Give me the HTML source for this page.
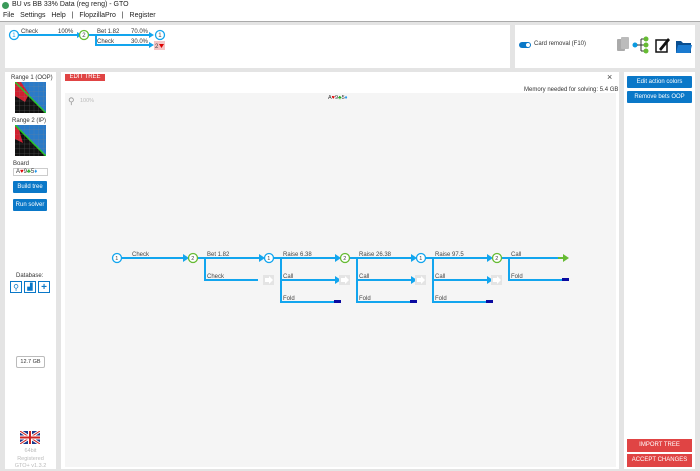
<!DOCTYPE html>
<html><head><meta charset="utf-8"><style>
*{margin:0;padding:0;box-sizing:border-box}
body{width:700px;height:469px;overflow:hidden;background:#e4e4e4;font-family:"Liberation Sans",sans-serif;position:relative}
.a{position:absolute}
.btn{position:absolute;background:#0a78c8;color:#fff;font-size:6px;text-align:center;border-radius:1px}
.rbtn{position:absolute;background:#e04444;color:#fff;font-size:6px;text-align:center}
</style></head><body>
<div class="a" style="left:0;top:0;width:700px;height:22px;background:#fff"></div>
<div class="a" style="left:2px;top:2px;width:7px;height:7px;border-radius:50%;background:#3a9a5a"></div>
<div class="a" style="left:12px;top:1px;font-size:7px;color:#222">BU vs BB 33% Data (reg reng) - GTO</div>
<div class="a" style="left:3px;top:12px;font-size:7px;color:#222;word-spacing:1px">File&nbsp; Settings&nbsp; Help&nbsp; |&nbsp; FlopzillaPro&nbsp; |&nbsp; Register</div>
<div class="a" style="left:0;top:21px;width:700px;height:1px;background:#aaa"></div>
<div class="a" style="left:5px;top:25px;width:505px;height:43px;background:#fff"></div>
<div class="a" style="left:515px;top:25px;width:180px;height:43px;background:#fff"></div>
<div class="a" style="left:5px;top:72px;width:51px;height:397px;background:#fff"></div>
<div class="a" style="left:61px;top:72px;width:558px;height:397px;background:#fff"></div>
<div class="a" style="left:65px;top:93px;width:551px;height:374px;background:#f5f5f5"></div>
<div class="a" style="left:624px;top:72px;width:71px;height:397px;background:#fff"></div>

<!-- top right -->
<div class="a" style="left:519px;top:42px;width:12px;height:6px;border-radius:3px;background:#0a78c8"></div>
<div class="a" style="left:526px;top:43px;width:4px;height:4px;border-radius:50%;background:#fff"></div>
<div class="a" style="left:534px;top:41px;font-size:6px;color:#333">Card removal (F10)</div>
<div class="a" style="left:617px;top:39px;width:8px;height:12px;background:#aaa;border-radius:1px"></div>
<div class="a" style="left:621px;top:37px;width:8px;height:12px;background:#bbb;border-radius:1px"></div>
<svg class="a" style="left:630px;top:34px" width="70" height="22">
<circle cx="5" cy="11" r="2.5" fill="#0a9ae0"/><line x1="7" y1="11" x2="11" y2="11" stroke="#333"/><path d="M11 5V17M11 5H15M11 11H15M11 17H15" stroke="#333" fill="none"/>
<circle cx="16" cy="5" r="2.5" fill="#66bb33"/><circle cx="16" cy="11" r="2.5" fill="#66bb33"/><circle cx="16" cy="17" r="2.5" fill="#66bb33"/>
<rect x="26" y="6" width="11" height="12" fill="none" stroke="#111" stroke-width="1.5"/><path d="M29 15L38 4L40 6L31 17Z" fill="#111"/>
<path d="M46 7H51L53 9H61V19H46Z" fill="#0a4e90"/><path d="M48 11H62L60 19H46Z" fill="#1a7ad0"/>
</svg>

<!-- top tree -->
<svg class="a" style="left:0;top:25px" width="200" height="40" font-family="Liberation Sans" font-size="6" fill="#333">
<g stroke="#12a5ee" stroke-width="2" fill="none">
<line x1="19" y1="10" x2="78" y2="10"/><line x1="89" y1="10" x2="150" y2="10"/>
<path d="M96 10V20H150"/></g>
<g fill="#12a5ee"><path d="M77 7L82 10L77 13Z"/><path d="M149 7L154 10L149 13Z"/><path d="M149 17L154 20L149 23Z"/></g>
<circle cx="14" cy="10" r="4.5" fill="#fff" stroke="#12a5ee" stroke-width="1.3"/><text x="12.3" y="12.2" font-size="6" fill="#12a5ee">1</text>
<circle cx="84" cy="10" r="4.5" fill="#fff" stroke="#66bb33" stroke-width="1.3"/><text x="82.3" y="12.2" fill="#444">2</text>
<circle cx="160" cy="10" r="4.5" fill="#fff" stroke="#12a5ee" stroke-width="1.3"/><text x="158.3" y="12.2" fill="#444">1</text>
<rect x="154" y="16" width="11" height="9" fill="#f4c4c4"/><text x="155" y="23" fill="#444">2</text><path d="M159 19H164L161.5 23Z" fill="#d00"/>
<text x="21" y="8">Check</text><text x="58" y="8">100%</text>
<text x="97" y="8">Bet 1.82</text><text x="131" y="8">70.0%</text>
<text x="97" y="18">Check</text><text x="131" y="18">30.0%</text>
</svg>

<!-- left panel -->
<div class="a" style="left:11px;top:75px;font-size:6px;color:#333">Range 1 (OOP)</div>
<svg class="a" style="left:15px;top:82px" width="31" height="31">
<rect width="31" height="31" fill="#111"/><path d="M0 0H31V31Z" fill="#2a7ac8"/><path d="M0 0H12L31 22V31Z" fill="#2a7ac8"/><path d="M0 0V14L10 20L14 12L6 0Z" fill="#d02030"/><path d="M0 0L31 31" stroke="#2c2" stroke-width="1.5"/>
<g stroke="#888" stroke-width="0.3" opacity=".6"><path d="M0 4.7H31M0 9.5H31M0 14.3H31M0 19H31M0 23.8H31M0 28.6H31M4.7 0V31M9.5 0V31M14.3 0V31M19 0V31M23.8 0V31M28.6 0V31"/></g></svg>
<div class="a" style="left:12px;top:118px;font-size:6px;color:#333">Range 2 (IP)</div>
<svg class="a" style="left:15px;top:125px" width="31" height="31">
<rect width="31" height="31" fill="#111"/><path d="M0 0H31V31Z" fill="#2a7ac8"/><path d="M0 0V14L8 18L4 5Z" fill="#d02030"/><path d="M0 0L31 31" stroke="#2c2" stroke-width="1.5"/>
<g stroke="#888" stroke-width="0.3" opacity=".6"><path d="M0 4.7H31M0 9.5H31M0 14.3H31M0 19H31M0 23.8H31M0 28.6H31M4.7 0V31M9.5 0V31M14.3 0V31M19 0V31M23.8 0V31M28.6 0V31"/></g></svg>
<div class="a" style="left:13px;top:161px;font-size:6px;color:#333">Board</div>
<div class="a" style="left:13px;top:168px;width:35px;height:8px;border:1px solid #ccc;font-size:6px;line-height:6px;padding-left:2px;color:#333">A<span style="color:#d00">♥</span>9<span style="color:#2a2">♣</span>5<span style="color:#29e">♦</span></div>
<div class="btn" style="left:13px;top:181px;width:34px;height:12px;line-height:12px">Build tree</div>
<div class="btn" style="left:13px;top:199px;width:34px;height:12px;line-height:12px">Run solver</div>
<div class="a" style="left:16px;top:273px;font-size:6px;color:#333">Database:</div>
<div class="a" style="left:10px;top:281px;width:12px;height:12px;border:1px solid #0a78c8;color:#0a78c8;font-size:8px;text-align:center;line-height:11px">⚲</div>
<div class="a" style="left:24px;top:281px;width:12px;height:12px;border:1px solid #0a78c8;color:#0a78c8;font-size:7px;text-align:center;line-height:11px">▟</div>
<div class="a" style="left:38px;top:281px;width:12px;height:12px;border:1px solid #0a78c8;color:#0a78c8;font-size:10px;font-weight:bold;text-align:center;line-height:11px">+</div>
<div class="a" style="left:16px;top:356px;width:29px;height:12px;border:1px solid #bbb;border-radius:2px;font-size:5.5px;text-align:center;line-height:10px;color:#333">12.7 GB</div>
<svg class="a" style="left:20px;top:431px" width="20" height="13"><rect width="20" height="13" fill="#1a3a8c"/><path d="M0 0L20 13M20 0L0 13" stroke="#fff" stroke-width="3"/><path d="M0 0L20 13M20 0L0 13" stroke="#c22" stroke-width="1"/><path d="M10 0V13M0 6.5H20" stroke="#fff" stroke-width="4"/><path d="M10 0V13M0 6.5H20" stroke="#c22" stroke-width="2"/></svg>
<div class="a" style="left:8px;top:448px;width:45px;font-size:5.5px;color:#bbb;text-align:center;line-height:7.5px">64bit<br>Registered<br>GTO+ v1.3.2</div>

<!-- main -->
<div class="rbtn" style="left:65px;top:74px;width:40px;height:7px;line-height:7px">EDIT TREE</div>
<div class="a" style="left:607px;top:72px;font-size:9px;color:#444">×</div>
<div class="a" style="left:524px;top:87px;font-size:6px;color:#333">Memory needed for solving: 5.4 GB</div>
<div class="a" style="left:68px;top:96px;font-size:9px;color:#999">⚲</div>
<div class="a" style="left:80px;top:98px;font-size:5.5px;color:#bbb">100%</div>
<div class="a" style="left:328px;top:95px;font-size:5.5px;color:#333">A<span style="color:#d00">♥</span>9<span style="color:#2a2">♣</span>5<span style="color:#29e">♦</span></div>

<svg class="a" style="left:0;top:0" width="620" height="469" font-family="Liberation Sans" font-size="6" fill="#444">
<g stroke="#12a5ee" stroke-width="2" fill="none">
<line x1="122" y1="258" x2="184" y2="258"/>
<line x1="198" y1="258" x2="260" y2="258"/><path d="M205 258V280H258"/>
<line x1="274" y1="258" x2="336" y2="258"/><path d="M281 258V302H334"/><line x1="281" y1="280" x2="336" y2="280"/>
<line x1="350" y1="258" x2="412" y2="258"/><path d="M357 258V302H410"/><line x1="357" y1="280" x2="412" y2="280"/>
<line x1="426" y1="258" x2="488" y2="258"/><path d="M433 258V302H486"/><line x1="433" y1="280" x2="488" y2="280"/>
<line x1="502" y1="258" x2="562" y2="258" stroke="#12a5ee"/><path d="M509 258V280H562"/>
</g>
<g fill="#12a5ee">
<path d="M183 254L189 258L183 262Z"/><path d="M259 254L265 258L259 262Z"/><path d="M335 254L341 258L335 262Z"/><path d="M411 254L417 258L411 262Z"/><path d="M487 254L493 258L487 262Z"/>
<path d="M335 276L341 280L335 284Z"/><path d="M411 276L417 280L411 284Z"/><path d="M487 276L493 280L487 284Z"/>
</g>
<path d="M563 254L569 258L563 262Z" fill="#66bb33"/><line x1="558" y1="258" x2="564" y2="258" stroke="#66bb33" stroke-width="2"/>
<g fill="#e4e4e4"><rect x="263" y="275" width="11" height="10"/><rect x="339" y="275" width="11" height="10"/><rect x="415" y="275" width="11" height="10"/><rect x="491" y="275" width="11" height="10"/></g>
<g fill="#fff"><path d="M265 278H269V276L273 280L269 284V282H265Z"/><path d="M341 278H345V276L349 280L345 284V282H341Z"/><path d="M417 278H421V276L425 280L421 284V282H417Z"/><path d="M493 278H497V276L501 280L497 284V282H493Z"/></g>
<g fill="#0a0aa0"><rect x="334" y="300" width="7" height="3"/><rect x="410" y="300" width="7" height="3"/><rect x="486" y="300" width="7" height="3"/><rect x="562" y="278" width="7" height="3"/></g>
<g fill="#fff" stroke-width="1.3">
<circle cx="117" cy="258" r="4.5" stroke="#12a5ee"/><circle cx="193" cy="258" r="4.5" stroke="#66bb33"/><circle cx="269" cy="258" r="4.5" stroke="#12a5ee"/><circle cx="345" cy="258" r="4.5" stroke="#66bb33"/><circle cx="421" cy="258" r="4.5" stroke="#12a5ee"/><circle cx="497" cy="258" r="4.5" stroke="#66bb33"/></g>
<g font-size="5.5"><text x="115.3" y="260">1</text><text x="191.3" y="260">2</text><text x="267.3" y="260">1</text><text x="343.3" y="260">2</text><text x="419.3" y="260">1</text><text x="495.3" y="260">2</text></g>
<text x="132" y="256">Check</text><text x="207" y="256">Bet 1.82</text><text x="207" y="278">Check</text>
<text x="283" y="256">Raise 6.38</text><text x="283" y="278">Call</text><text x="283" y="300">Fold</text>
<text x="359" y="256">Raise 26.38</text><text x="359" y="278">Call</text><text x="359" y="300">Fold</text>
<text x="435" y="256">Raise 97.5</text><text x="435" y="278">Call</text><text x="435" y="300">Fold</text>
<text x="511" y="256">Call</text><text x="511" y="278">Fold</text>
</svg>

<!-- right -->
<div class="btn" style="left:627px;top:76px;width:65px;height:12px;line-height:12px">Edit action colors</div>
<div class="btn" style="left:627px;top:91px;width:65px;height:12px;line-height:12px">Remove bets OOP</div>
<div class="rbtn" style="left:627px;top:439px;width:65px;height:13px;line-height:13px">IMPORT TREE</div>
<div class="rbtn" style="left:627px;top:454px;width:65px;height:13px;line-height:13px">ACCEPT CHANGES</div>
</body></html>
